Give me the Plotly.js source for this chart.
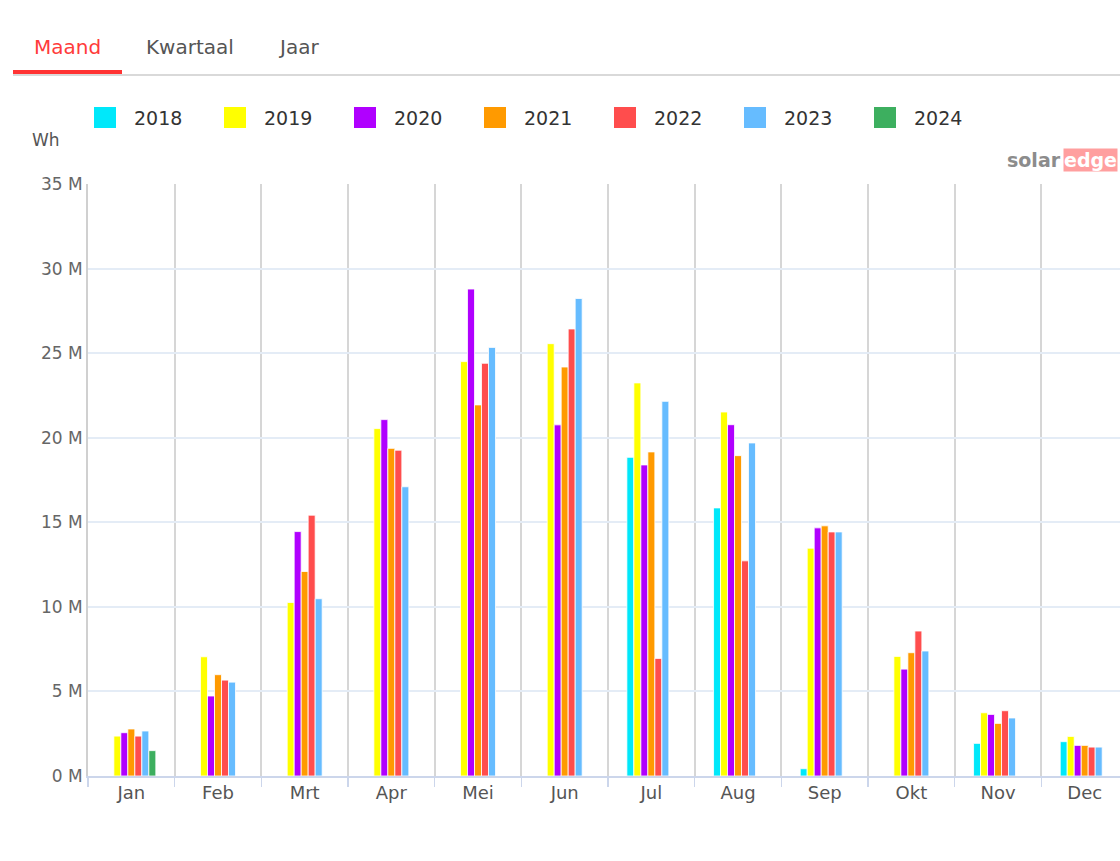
<!DOCTYPE html>
<html>
<head>
<meta charset="utf-8">
<script src="https://cdn.plot.ly/plotly-3.0.1.min.js"></script>
<style>
html,body{margin:0;padding:0;background:#fff;overflow:hidden;}
#chart{width:1120px;height:861px;}
</style>
</head>
<body>
<div id="chart"></div>
<script>
// ---- data ----
const months = ["Jan","Feb","Mrt","Apr","Mei","Jun","Jul","Aug","Sep","Okt","Nov","Dec"];
const years = ["2018","2019","2020","2021","2022","2023","2024"];
const colors = ["#00e8fa","#ffff00","#b000ff","#ff9a00","#ff4d4d","#66bcff","#3daf5f"];
// values in millions of Wh
const v2018 = [null,null,null,null,null,null,18.84,15.85,0.43,null,1.93,2.03];
const v2019 = [2.36,7.05,10.26,20.54,24.5,25.56,23.24,21.52,13.47,7.07,3.74,2.34];
const v2020 = [2.56,4.73,14.45,21.07,28.79,20.76,18.39,20.77,14.67,6.32,3.64,1.81];
const v2021 = [2.78,5.99,12.09,19.37,21.94,24.18,19.16,18.94,14.79,7.29,3.11,1.81];
const v2022 = [2.36,5.67,15.42,19.26,24.4,26.43,6.95,12.72,14.43,8.57,3.86,1.71];
const v2023 = [2.66,5.55,10.48,17.1,25.34,28.23,22.15,19.69,14.43,7.39,3.43,1.71];
const v2024 = [1.5,null,null,null,null,null,null,null,null,null,null,null];
const series = [v2018,v2019,v2020,v2021,v2022,v2023,v2024];
const yTicks = [0,5,10,15,20,25,30,35];
const yTickText = yTicks.map(v => v + " M");

// ---- layout helpers (pixel -> paper) ----
const W = 1120, H = 861;
const L = 88, R = 0, T = 184, B = 85;
const pw = W - L - R, ph = H - T - B;
const px = x => (x - L) / pw;
const py = y => (H - B - y) / ph;
const catW = 86.67;

const traces = series.map((vals, i) => ({
  type: "bar",
  name: years[i],
  x: months,
  y: vals,
  marker: {color: colors[i], line: {color: "#ffffff", width: 0.8}},
  hoverinfo: "x+y+name"
}));

const annotations = [
  {text: "Maand", x: px(67), y: py(47), font: {family: "DejaVu Sans", size: 20, color: "#ff3b3b"}},
  {text: "Kwartaal", x: px(190), y: py(47), font: {family: "DejaVu Sans", size: 20, color: "#555555"}},
  {text: "Jaar", x: px(298), y: py(47), font: {family: "DejaVu Sans", size: 20, color: "#555555"}},
  {text: "Wh", x: px(46), y: py(140), font: {family: "DejaVu Sans", size: 17, color: "#555555"}},
  {text: "<b>solar</b>", x: px(1063), y: py(160), xanchor: "right", font: {family: "DejaVu Sans", size: 19, color: "#8c8c8c"}},
  {text: "<b>edge</b>", x: px(1063), y: py(160), xanchor: "left", bgcolor: "#ff9f9f", borderpad: 0, font: {family: "DejaVu Sans", size: 19, color: "#ffffff"}}
].map(a => Object.assign({xref: "paper", yref: "paper", showarrow: false, yanchor: "middle", xanchor: a.xanchor || "center"}, a));

const shapes = [
  {type: "line", xref: "paper", yref: "paper", x0: px(13), x1: px(1120), y0: py(75), y1: py(75), line: {color: "#cccccc", width: 1.5}},
  {type: "rect", xref: "paper", yref: "paper", x0: px(13), x1: px(122), y0: py(70), y1: py(74), fillcolor: "#ff3333", line: {width: 0}}
];

// legend (drawn from years/colors)
years.forEach((yr, i) => {
  const x0 = 94 + 130 * i;
  shapes.push({type: "rect", xref: "paper", yref: "paper", x0: px(x0), x1: px(x0 + 22), y0: py(128), y1: py(107),
    fillcolor: colors[i], line: {width: 0}});
  annotations.push({text: yr, xref: "paper", yref: "paper", x: px(x0 + 38), y: py(118), xanchor: "left", yanchor: "middle",
    showarrow: false, font: {family: "DejaVu Sans", size: 19, color: "#333333"}});
});

const layout = {
  width: W, height: H,
  margin: {l: L, r: R, t: T, b: B},
  paper_bgcolor: "#ffffff",
  plot_bgcolor: "#ffffff",
  barmode: "group",
  bargap: 0.435,
  bargroupgap: 0,
  showlegend: false,
  xaxis: {
    type: "category",
    range: [-0.5, -0.5 + pw / catW],
    tickson: "boundaries",
    showgrid: true, gridcolor: "#d6d6d6", gridwidth: 2,
    ticks: "outside", ticklen: 9, tickcolor: "#ccd6eb", tickwidth: 1.5,
    showline: true, linecolor: "#ccd6eb", linewidth: 1.5,
    tickfont: {family: "DejaVu Sans", size: 18, color: "#555555"},
    fixedrange: true
  },
  yaxis: {
    range: [0, 35],
    tickvals: yTicks, ticktext: yTickText,
    showgrid: true, gridcolor: "#e4ecf6", gridwidth: 2,
    zeroline: false,
    showline: true, linecolor: "#d0d0d0", linewidth: 2,
    ticks: "",
    tickfont: {family: "DejaVu Sans", size: 17, color: "#666666"},
    fixedrange: true
  },
  annotations: annotations,
  shapes: shapes,
  font: {family: "DejaVu Sans"}
};

Plotly.newPlot("chart", traces, layout, {displayModeBar: false, staticPlot: true});
</script>
</body>
</html>
